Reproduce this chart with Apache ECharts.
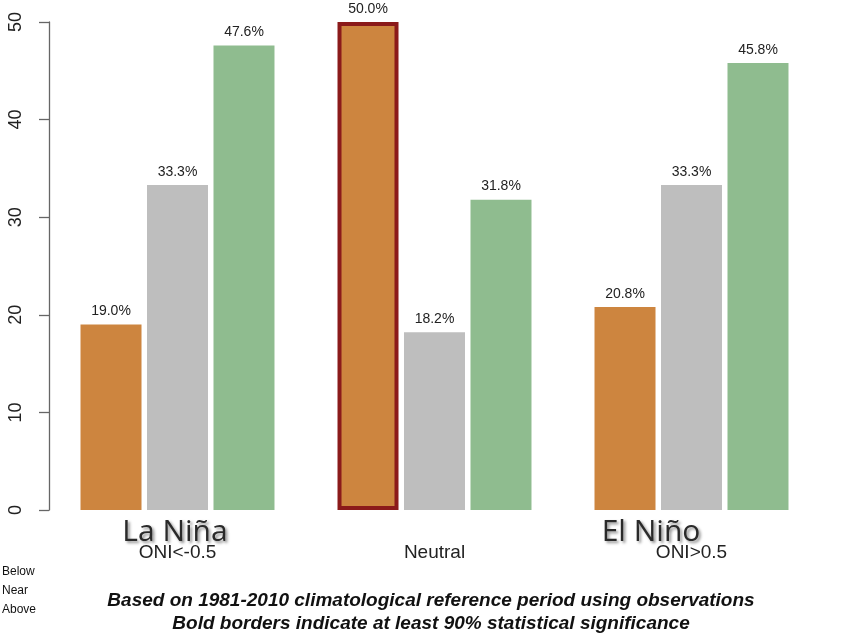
<!DOCTYPE html>
<html>
<head>
<meta charset="utf-8">
<script src="https://cdn.jsdelivr.net/npm/echarts@6/dist/echarts.min.js"></script>
<style>html,body{margin:0;padding:0;background:#fff;}#c{width:862px;height:635px;}</style>
</head>
<body>
<div id="c"></div>
<script>
var categories = ['La Niña', 'Neutral', 'El Niño'];
var axisLabels = ['ONI<-0.5', 'Neutral', 'ONI>0.5'];
var seriesNames = ['Below', 'Near', 'Above'];
var below = [19.0, 50.0, 20.8];
var near = [33.3, 18.2, 33.3];
var above = [47.6, 31.8, 45.8];
var significant = [[false, true, false], [false, false, false], [false, false, false]];
var yTicks = [0, 10, 20, 30, 40, 50];
var footnote = ['Based on 1981-2010 climatological reference period using observations',
                'Bold borders indicate at least 90% statistical significance'];

var colors = ['#CD853F', '#BEBEBE', '#8FBC8F'];
var values = [below, near, above];

var series = seriesNames.map(function (name, s) {
  return {
    name: name,
    type: 'bar',
    barWidth: 61,
    barGap: '9%',
    itemStyle: { color: colors[s] },
    label: {
      show: true, position: 'top', distance: 6,
      fontFamily: 'Liberation Sans', fontSize: 14, color: '#222',
      formatter: function (p) { return p.value.toFixed(1) + '%'; }
    },
    data: values[s].map(function (v, i) {
      var d = { value: v };
      if (significant[s][i]) {
        d.itemStyle = { color: colors[s], borderColor: '#8B1A1A', borderWidth: 4 };
      }
      return d;
    })
  };
});

var chart = echarts.init(document.getElementById('c'), null, { renderer: 'canvas' });
chart.setOption({
  animation: false,
  backgroundColor: '#fff',
  color: colors,
  grid: { left: 49, right: 42, top: 22, bottom: 125, containLabel: false },
  legend: {
    data: seriesNames,
    orient: 'vertical',
    left: -6, top: 561,
    icon: 'rect', itemWidth: 0, itemHeight: 12, itemGap: 7,
    textStyle: { fontFamily: 'Liberation Sans', fontSize: 12, color: '#111', padding: [0, 0, 0, -2] }
  },
  xAxis: {
    type: 'category',
    data: categories,
    axisLine: { show: false },
    axisTick: { show: false },
    axisLabel: {
      margin: 33, fontFamily: 'Liberation Sans', fontSize: 19, color: '#222',
      formatter: function (v, i) { return axisLabels[i]; }
    }
  },
  yAxis: {
    type: 'value',
    min: 0, max: 50, interval: 10,
    splitLine: { show: false },
    axisLine: { show: true, lineStyle: { color: '#666', width: 1.3 } },
    axisTick: { show: true, length: 10, lineStyle: { color: '#666', width: 1.3 } },
    axisLabel: {
      rotate: 90, margin: 24, fontFamily: 'Liberation Sans', fontSize: 18, color: '#222',
      formatter: function (v) { return yTicks.indexOf(v) >= 0 ? String(v) : ''; }
    }
  },
  graphic: [
    { type: 'text', left: 'center', top: 589,
      style: { text: footnote.join('\n'), fontFamily: 'Liberation Sans', fontWeight: 'bold', fontStyle: 'italic',
               fontSize: 19, lineHeight: 23, fill: '#111', textAlign: 'center' } },
    { type: 'text', x: 175, y: 532,
      style: { text: categories[0], fontFamily: 'Open Sans', fontSize: 30, fill: '#2a2a2a',
               textAlign: 'center', textVerticalAlign: 'middle',
               textShadowColor: 'rgba(0,0,0,0.45)', textShadowBlur: 3, textShadowOffsetX: 2, textShadowOffsetY: 2 } },
    { type: 'text', x: 651, y: 532,
      style: { text: categories[2], fontFamily: 'Open Sans', fontSize: 30, fill: '#2a2a2a',
               textAlign: 'center', textVerticalAlign: 'middle',
               textShadowColor: 'rgba(0,0,0,0.45)', textShadowBlur: 3, textShadowOffsetX: 2, textShadowOffsetY: 2 } }
  ],
  series: series
});
</script>
</body>
</html>
